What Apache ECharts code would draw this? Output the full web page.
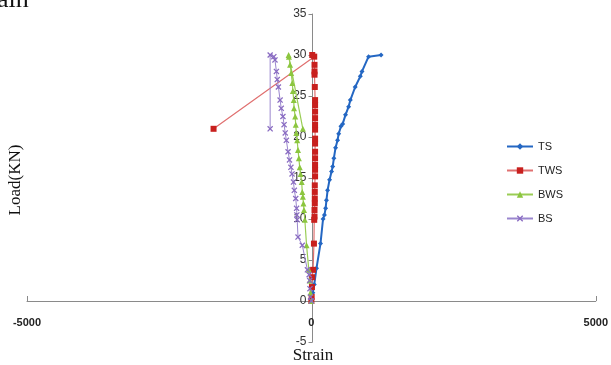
<!DOCTYPE html>
<html>
<head>
<meta charset="utf-8">
<script src="https://cdn.jsdelivr.net/npm/echarts@6/dist/echarts.min.js"></script>
<style>
html,body{margin:0;padding:0;background:#fff;}
#c{width:611px;height:365px;}
</style>
</head>
<body>
<div id="c"></div>
<script>
var seriesNames = ['TS', 'TWS', 'BWS', 'BS'];
var xTicks = [-5000, 0, 5000];
var yTicks = [-5, 0, 5, 10, 15, 20, 25, 30, 35];

// [strain, load]
var TS = [[0,0],[25,1],[50,2],[90,4],[160,7],[205,10],[230,10.5],[250,11.3],[265,12.3],[285,13.5],[320,14.8],[355,15.8],[375,16.4],[395,17.4],[425,18.7],[460,19.6],[480,20.4],[520,21.3],[550,21.6],[600,22.7],[655,23.7],[685,24.5],[770,26.1],[860,27.4],[890,28],[1005,29.8],[1225,30]];
var TWS = [[0,0],[5,0.5],[10,1.7],[15,2.9],[30,3.8],[45,7],[50,9.9],[55,10.3],[55,11.1],[60,11.9],[60,12.5],[60,13.3],[60,14.1],[65,15.2],[65,16],[65,16.6],[65,17.4],[65,18.2],[65,19.2],[65,19.8],[65,20.9],[65,21.5],[65,22.3],[65,23.1],[65,23.9],[65,24.5],[60,26.1],[55,27.6],[55,28],[55,28.8],[50,29.8],[15,30],[-1720,21]];
var BWS = [[0,0],[-15,1],[-30,2.5],[-45,3.8],[-85,6.8],[-115,9.9],[-130,11.1],[-140,11.9],[-150,12.7],[-160,13.3],[-170,14.5],[-190,15.5],[-205,16.3],[-220,17.4],[-235,18.4],[-250,19.6],[-265,20.5],[-275,21.5],[-285,22.5],[-305,23.5],[-310,24.5],[-325,25.6],[-335,26.6],[-355,27.8],[-375,28.8],[-395,29.8],[-400,30],[-150,21]];
var BS = [[0,0],[-15,0.5],[-25,1.5],[-30,2.5],[-40,3.2],[-70,3.8],[-160,6.8],[-235,7.8],[-250,9.9],[-255,10.5],[-260,11.3],[-275,12.5],[-300,13.5],[-315,14.5],[-340,15.5],[-360,16.3],[-385,17.2],[-410,18.2],[-440,19.6],[-460,20.5],[-480,21.5],[-500,22.5],[-530,23.5],[-550,24.5],[-580,26.1],[-600,27],[-615,28],[-640,29.4],[-660,29.8],[-725,30],[-725,21]];

var xSym = 'path://M0,1.5L1.5,0L5,3.5L8.5,0L10,1.5L6.5,5L10,8.5L8.5,10L5,6.5L1.5,10L0,8.5L3.5,5Z';

var G = {left: 27, right: 13, top: 14, bottom: 23};
var W = 611, H = 365;
var gw = W - G.left - G.right, gh = H - G.top - G.bottom;
var xMin = xTicks[0], xMax = xTicks[xTicks.length-1];
var yMin = yTicks[0], yMax = yTicks[yTicks.length-1];
// offsets that bring the axes onto the zero lines
var yAxisOffset = -gw * (0 - xMin) / (xMax - xMin);
var xAxisOffset = -gh * (0 - yMin) / (yMax - yMin);

var chart = echarts.init(document.getElementById('c'), null, {renderer:'canvas'});
chart.setOption({
  animation: false,
  backgroundColor: '#fff',
  grid: {left: G.left, right: G.right, top: G.top, bottom: G.bottom, containLabel: false},
  xAxis: {
    type: 'value', min: xMin, max: xMax, interval: 5000, position: 'bottom', offset: xAxisOffset,
    axisLine: {onZero: false, lineStyle: {color: '#8a8a8a', width: 1}},
    axisTick: {inside: true, length: 5, lineStyle: {color: '#8a8a8a'}},
    axisLabel: {margin: 16, fontSize: 11, color: '#222', fontFamily: 'Liberation Sans', fontWeight: 'bold',
      formatter: function (v) { return String(v); }},
    splitLine: {show: false}
  },
  yAxis: {
    type: 'value', min: yMin, max: yMax, interval: 5, position: 'left', offset: yAxisOffset,
    axisLine: {onZero: false, lineStyle: {color: '#8a8a8a', width: 1}},
    axisTick: {length: 4, lineStyle: {color: '#8a8a8a'}},
    axisLabel: {margin: 6, fontSize: 12, color: '#333', fontFamily: 'Liberation Sans',
      formatter: function (v) { return String(v); }},
    splitLine: {show: false}
  },
  legend: {
    orient: 'vertical', left: 501, top: 136, itemGap: 13, itemWidth: 26, itemHeight: 8,
    textStyle: {fontSize: 11, color: '#222', fontFamily: 'Liberation Sans'},
    data: seriesNames
  },
  graphic: [
    {type: 'text', x: 16, y: 180, rotation: Math.PI/2, style: {text: 'Load(KN)', font: '17px "Liberation Serif"', fill: '#111', align: 'center', verticalAlign: 'middle'}},
    {type: 'text', x: 313, y: 356, style: {text: 'Strain', font: '17px "Liberation Serif"', fill: '#111', align: 'center', verticalAlign: 'middle'}},
    {type: 'text', x: -3, y: -13, style: {text: 'ain', font: '26px "Liberation Serif"', fill: '#111'}}
  ],
  series: [
    {name: 'TS', type: 'line', data: TS, symbol: 'diamond', symbolSize: 5,
     itemStyle: {color: '#2467C3'}, lineStyle: {color: '#2467C3', width: 2}},
    {name: 'TWS', type: 'line', data: TWS, symbol: 'rect', symbolSize: 6,
     itemStyle: {color: '#C8201E'}, lineStyle: {color: '#E07070', width: 1.2}},
    {name: 'BWS', type: 'line', data: BWS, symbol: 'triangle', symbolSize: 6,
     itemStyle: {color: '#8CC63F'}, lineStyle: {color: '#9ACD55', width: 1.2}},
    {name: 'BS', type: 'line', data: BS, symbol: xSym, symbolSize: 6,
     itemStyle: {color: '#8A6CC2'}, lineStyle: {color: '#9A86CE', width: 1}}
  ]
});
</script>
</body>
</html>
